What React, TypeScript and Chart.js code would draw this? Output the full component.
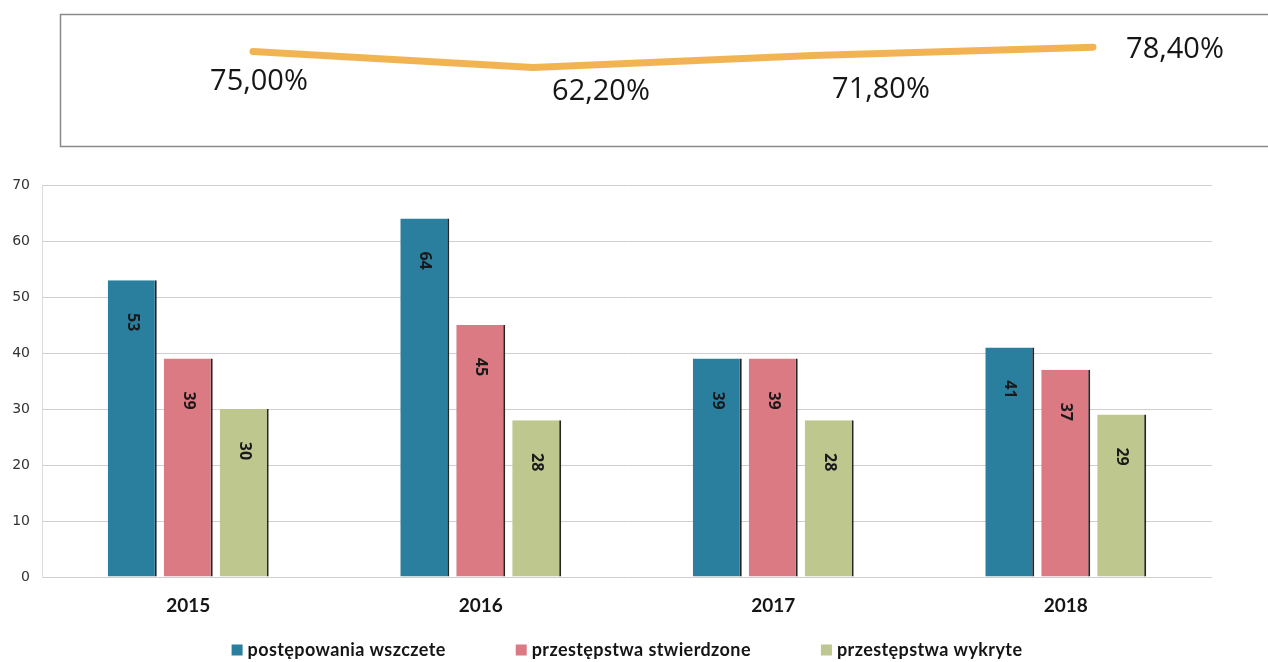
import { useEffect, useRef } from "react";
import { Chart, registerables } from "chart.js";

Chart.register(...registerables);

// ---------- data ----------
const YEARS = ["2015", "2016", "2017", "2018"];
const DETECTION_RATE = [75.0, 62.2, 71.8, 78.4];
const SERIES_NAMES = [
  "postępowania wszczete",
  "przestępstwa stwierdzone",
  "przestępstwa wykryte",
];
const WSZCZETE = [53, 64, 39, 41];
const STWIERDZONE = [39, 45, 39, 37];
const WYKRYTE = [30, 28, 28, 29];
const Y_MIN = 0;
const Y_MAX = 70;
const Y_STEP = 10;

// ---------- styles ----------
const COLORS = ["#2b7f9e", "#db7a83", "#bec78d"];
const LINE_COLOR = "#f2b453";
// label offset (dx, dy) relative to each line point
const RATE_LABEL_OFFSETS: [number, number][] = [
  [6, 30],
  [68, 24],
  [68, 34],
  [82, 3],
];

const fmtPct = (v: number) => v.toFixed(2).replace(".", ",") + "%";

export default function App() {
  const topRef = useRef<HTMLCanvasElement | null>(null);
  const botRef = useRef<HTMLCanvasElement | null>(null);

  useEffect(() => {
    const top = new Chart(topRef.current!, {
      type: "line",
      data: {
        labels: YEARS,
        datasets: [
          {
            data: DETECTION_RATE,
            borderColor: LINE_COLOR,
            borderWidth: 7,
            borderCapStyle: "round",
            borderJoinStyle: "round",
            pointRadius: 0,
            tension: 0,
            fill: false,
          },
        ],
      },
      options: {
        animation: false,
        responsive: false,
        layout: { padding: { left: 113, right: 35, top: 14, bottom: 15 } },
        scales: {
          x: { display: false, offset: true },
          y: { display: false, min: 0, max: 105 },
        },
        plugins: { legend: { display: false }, tooltip: { enabled: false } },
      },
      plugins: [
        {
          id: "frame",
          beforeDraw(chart) {
            const ctx = chart.ctx;
            ctx.save();
            ctx.strokeStyle = "#8a8a8a";
            ctx.lineWidth = 1.5;
            ctx.strokeRect(60.5, 14.5, 1300, 132);
            ctx.restore();
          },
        },
        {
          id: "rateLabels",
          afterDatasetsDraw(chart) {
            const ctx = chart.ctx;
            const meta = chart.getDatasetMeta(0);
            ctx.save();
            ctx.font = "29px 'Open Sans'";
            ctx.fillStyle = "#161616";
            ctx.textAlign = "center";
            ctx.textBaseline = "middle";
            meta.data.forEach((pt: any, i: number) => {
              const [dx, dy] = RATE_LABEL_OFFSETS[i];
              ctx.fillText(fmtPct(DETECTION_RATE[i]), pt.x + dx, pt.y + dy);
            });
            ctx.restore();
          },
        },
      ],
    });

    const bot = new Chart(botRef.current!, {
      type: "bar",
      data: {
        labels: YEARS,
        datasets: [WSZCZETE, STWIERDZONE, WYKRYTE].map((d, i) => ({
          label: SERIES_NAMES[i],
          data: d,
          backgroundColor: COLORS[i],
          borderColor: "#262626",
          borderWidth: { left: 0, right: 2, top: 0, bottom: 0 },
          categoryPercentage: 0.574,
          barPercentage: 0.875,
        })),
      },
      options: {
        animation: false,
        responsive: false,
        layout: { padding: { top: 25, right: 56, bottom: 45, left: 0 } },
        scales: {
          x: {
            grid: { display: false, drawTicks: false },
            border: { display: false },
            ticks: {
              font: { family: "Lato", weight: "bold", size: 19 },
              color: "#151515",
              padding: 17,
            },
            afterFit(s: any) {
              s.height = 40;
            },
          },
          y: {
            min: Y_MIN,
            max: Y_MAX,
            ticks: {
              stepSize: Y_STEP,
              font: { family: "DejaVu Sans", size: 14 },
              color: "#333",
              padding: 12,
            },
            grid: { color: "#cfcfcf", drawTicks: false },
            border: { color: "#dcdcdc" },
            afterFit(s: any) {
              s.width = 42;
            },
          },
        },
        plugins: { legend: { display: false }, tooltip: { enabled: false } },
      },
      plugins: [
        {
          id: "barLabels",
          afterDatasetsDraw(chart) {
            const ctx = chart.ctx;
            ctx.save();
            ctx.font = "bold 16px 'Open Sans'";
            ctx.fillStyle = "#1a1a1a";
            ctx.textAlign = "center";
            ctx.textBaseline = "middle";
            chart.data.datasets.forEach((ds: any, di: number) => {
              const meta = chart.getDatasetMeta(di);
              meta.data.forEach((bar: any, i: number) => {
                ctx.save();
                ctx.translate(bar.x, bar.y + 42);
                ctx.rotate(Math.PI / 2);
                ctx.fillText(String(ds.data[i]), 0, 0);
                ctx.restore();
              });
            });
            ctx.restore();
          },
        },
        {
          id: "customLegend",
          afterDraw(chart) {
            const ctx: any = chart.ctx;
            const area = chart.chartArea;
            ctx.save();
            ctx.font = "bold 18px Lato";
            ctx.letterSpacing = "0.4px";
            ctx.textBaseline = "middle";
            ctx.textAlign = "left";
            const box = 11;
            const gap = 5;
            const spacing = 70;
            const widths = SERIES_NAMES.map(
              (n) => box + gap + ctx.measureText(n).width
            );
            const total =
              widths.reduce((a, b) => a + b, 0) + spacing * (widths.length - 1);
            let x = (area.left + area.right) / 2 - total / 2;
            const y = 490;
            SERIES_NAMES.forEach((n, i) => {
              ctx.fillStyle = COLORS[i];
              ctx.fillRect(x, y - box / 2, box, box);
              ctx.fillStyle = "#151515";
              ctx.fillText(n, x + box + gap, y);
              x += widths[i] + spacing;
            });
            ctx.restore();
          },
        },
      ],
    });

    return () => {
      top.destroy();
      bot.destroy();
    };
  }, []);

  return (
    <div
      style={{
        position: "fixed",
        left: 0,
        top: 0,
        width: 1268,
        height: 662,
        background: "#fff",
        overflow: "hidden",
      }}
    >
      <canvas
        ref={topRef}
        width={1268}
        height={160}
        style={{ position: "absolute", left: 0, top: 0, width: 1268, height: 160 }}
      />
      <canvas
        ref={botRef}
        width={1268}
        height={502}
        style={{ position: "absolute", left: 0, top: 160, width: 1268, height: 502 }}
      />
    </div>
  );
}
